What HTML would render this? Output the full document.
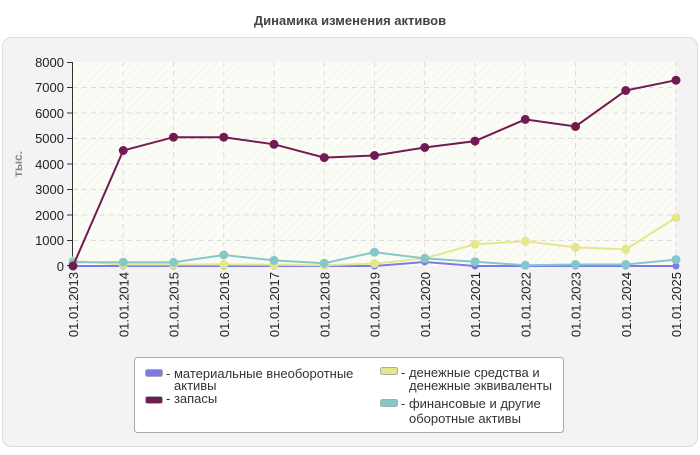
<!DOCTYPE html>
<html><head><meta charset="utf-8"><style>
body{margin:0;width:700px;height:450px;background:#fff;font-family:"Liberation Sans",sans-serif;overflow:hidden}
</style></head><body>
<svg width="700" height="450" xmlns="http://www.w3.org/2000/svg" font-family="Liberation Sans, sans-serif">
<defs>
<pattern id="h" width="6" height="6" patternUnits="userSpaceOnUse" patternTransform="rotate(-45)">
<rect width="6" height="6" fill="#fcfcf6"/><line x1="0" y1="0" x2="6" y2="0" stroke="#efefe8" stroke-width="1"/>
</pattern>
</defs>
<text x="350" y="25" text-anchor="middle" font-size="13" font-weight="bold" fill="#444">Динамика изменения активов</text>
<rect x="2.5" y="37.5" width="695" height="409" rx="9" fill="#f3f3f3" stroke="#ddd"/>
<rect x="73" y="62" width="603" height="204" fill="url(#h)"/>
<g stroke="#ddd" stroke-dasharray="5,4">
<line x1="73" y1="87.5" x2="676" y2="87.5"/><line x1="73" y1="113" x2="676" y2="113"/><line x1="73" y1="138.5" x2="676" y2="138.5"/><line x1="73" y1="164" x2="676" y2="164"/><line x1="73" y1="189.5" x2="676" y2="189.5"/><line x1="73" y1="215" x2="676" y2="215"/><line x1="73" y1="240.5" x2="676" y2="240.5"/>
<line x1="123.25" y1="62" x2="123.25" y2="266"/><line x1="173.5" y1="62" x2="173.5" y2="266"/><line x1="223.75" y1="62" x2="223.75" y2="266"/><line x1="274" y1="62" x2="274" y2="266"/><line x1="324.25" y1="62" x2="324.25" y2="266"/><line x1="374.5" y1="62" x2="374.5" y2="266"/><line x1="424.75" y1="62" x2="424.75" y2="266"/><line x1="475" y1="62" x2="475" y2="266"/><line x1="525.25" y1="62" x2="525.25" y2="266"/><line x1="575.5" y1="62" x2="575.5" y2="266"/><line x1="625.75" y1="62" x2="625.75" y2="266"/><line x1="676" y1="62" x2="676" y2="266"/>
</g>
<line x1="72.5" y1="62" x2="72.5" y2="266" stroke="#333"/>
<g stroke="#333"><line x1="67" y1="62.5" x2="72" y2="62.5"/><line x1="67" y1="87.5" x2="72" y2="87.5"/><line x1="67" y1="113" x2="72" y2="113"/><line x1="67" y1="138.5" x2="72" y2="138.5"/><line x1="67" y1="164" x2="72" y2="164"/><line x1="67" y1="189.5" x2="72" y2="189.5"/><line x1="67" y1="215" x2="72" y2="215"/><line x1="67" y1="240.5" x2="72" y2="240.5"/><line x1="67" y1="265.5" x2="72" y2="265.5"/></g>
<g font-size="13" fill="#222" text-anchor="end">
<text x="64" y="67">8000</text><text x="64" y="92">7000</text><text x="64" y="118">6000</text><text x="64" y="143">5000</text><text x="64" y="169">4000</text><text x="64" y="194">3000</text><text x="64" y="220">2000</text><text x="64" y="245">1000</text><text x="64" y="271">0</text>
</g>
<text transform="translate(22,164) rotate(-90)" text-anchor="middle" font-size="12" font-weight="bold" fill="#888">тыс.</text>
<g font-size="13" fill="#222" text-anchor="end">
<text transform="translate(78,272) rotate(-90)">01.01.2013</text>
<text transform="translate(128.25,272) rotate(-90)">01.01.2014</text>
<text transform="translate(178.5,272) rotate(-90)">01.01.2015</text>
<text transform="translate(228.75,272) rotate(-90)">01.01.2016</text>
<text transform="translate(279,272) rotate(-90)">01.01.2017</text>
<text transform="translate(329.25,272) rotate(-90)">01.01.2018</text>
<text transform="translate(379.5,272) rotate(-90)">01.01.2019</text>
<text transform="translate(429.75,272) rotate(-90)">01.01.2020</text>
<text transform="translate(480,272) rotate(-90)">01.01.2021</text>
<text transform="translate(530.25,272) rotate(-90)">01.01.2022</text>
<text transform="translate(580.5,272) rotate(-90)">01.01.2023</text>
<text transform="translate(630.75,272) rotate(-90)">01.01.2024</text>
<text transform="translate(681,272) rotate(-90)">01.01.2025</text>
</g>
<g id="blue" fill="#7a7ae8" stroke="#7a7ae8" stroke-width="2">
<polyline fill="none" points="73,266 123.25,266 173.5,266 223.75,266 274,266 324.25,266 374.5,266 424.75,262 475,266 525.25,266 575.5,266 625.75,266 676,266"/>
<circle cx="73" cy="266" r="2.5"/><circle cx="123.25" cy="266" r="2.5"/><circle cx="173.5" cy="266" r="2.5"/><circle cx="223.75" cy="266" r="2.5"/><circle cx="274" cy="266" r="2.5"/><circle cx="324.25" cy="266" r="2.5"/><circle cx="374.5" cy="266" r="2.5"/><circle cx="424.75" cy="262" r="2.5"/><circle cx="475" cy="266" r="2.5"/><circle cx="525.25" cy="266" r="2.5"/><circle cx="575.5" cy="266" r="2.5"/><circle cx="625.75" cy="266" r="2.5"/><circle cx="676" cy="266" r="2.5"/>
</g>
<g fill="#e6e68a" stroke="#e6e68a" stroke-width="2">
<polyline fill="none" points="73,261 123.25,264.5 173.5,264.5 223.75,264.5 274,264.7 324.25,265.2 374.5,263.5 424.75,258.4 475,244.3 525.25,241.3 575.5,247.4 625.75,249.4 676,217.6"/>
<circle cx="73" cy="261" r="3.5"/><circle cx="123.25" cy="264.5" r="3.5"/><circle cx="173.5" cy="264.5" r="3.5"/><circle cx="223.75" cy="264.5" r="3.5"/><circle cx="274" cy="264.7" r="3.5"/><circle cx="324.25" cy="265.2" r="3.5"/><circle cx="374.5" cy="263.5" r="3.5"/><circle cx="424.75" cy="258.4" r="3.5"/><circle cx="475" cy="244.3" r="3.5"/><circle cx="525.25" cy="241.3" r="3.5"/><circle cx="575.5" cy="247.4" r="3.5"/><circle cx="625.75" cy="249.4" r="3.5"/><circle cx="676" cy="217.6" r="3.5"/>
</g>
<g fill="#85c8c8" stroke="#85c8c8" stroke-width="2">
<polyline fill="none" points="73,262.2 123.25,262.2 173.5,262.4 223.75,255 274,260.4 324.25,263.2 374.5,252.2 424.75,258.4 475,261.7 525.25,265.2 575.5,264.5 625.75,264.5 676,259.6"/>
<circle cx="73" cy="262.2" r="3.5"/><circle cx="123.25" cy="262.2" r="3.5"/><circle cx="173.5" cy="262.4" r="3.5"/><circle cx="223.75" cy="255" r="3.5"/><circle cx="274" cy="260.4" r="3.5"/><circle cx="324.25" cy="263.2" r="3.5"/><circle cx="374.5" cy="252.2" r="3.5"/><circle cx="424.75" cy="258.4" r="3.5"/><circle cx="475" cy="261.7" r="3.5"/><circle cx="525.25" cy="265.2" r="3.5"/><circle cx="575.5" cy="264.5" r="3.5"/><circle cx="625.75" cy="264.5" r="3.5"/><circle cx="676" cy="259.6" r="3.5"/>
</g>
<g fill="#721a52" stroke="#721a52" stroke-width="2">
<polyline fill="none" points="73,266 123.25,150.5 173.5,137.2 223.75,137.2 274,144.3 324.25,157.6 374.5,155.5 424.75,147.5 475,141.1 525.25,119.4 575.5,126.5 625.75,90.5 676,80.2"/>
<circle cx="73" cy="266" r="3.5"/><circle cx="123.25" cy="150.5" r="3.5"/><circle cx="173.5" cy="137.2" r="3.5"/><circle cx="223.75" cy="137.2" r="3.5"/><circle cx="274" cy="144.3" r="3.5"/><circle cx="324.25" cy="157.6" r="3.5"/><circle cx="374.5" cy="155.5" r="3.5"/><circle cx="424.75" cy="147.5" r="3.5"/><circle cx="475" cy="141.1" r="3.5"/><circle cx="525.25" cy="119.4" r="3.5"/><circle cx="575.5" cy="126.5" r="3.5"/><circle cx="625.75" cy="90.5" r="3.5"/><circle cx="676" cy="80.2" r="3.5"/>
</g>
<rect x="134.5" y="357.5" width="429" height="75" rx="3" fill="#fff" stroke="#aaa"/>
<g stroke="#aaa" stroke-width="1">
<rect x="145.5" y="369.5" width="17" height="7" rx="2" fill="#7a7ae8"/>
<rect x="145.5" y="396.5" width="17" height="7" rx="2" fill="#721a52"/>
<rect x="380.5" y="367.5" width="17" height="7" rx="2" fill="#e6e68a"/>
<rect x="380.5" y="399.5" width="17" height="7" rx="2" fill="#85c8c8"/>
</g>
<g font-size="13" fill="#333">
<text x="166" y="378">- материальные внеоборотные</text>
<text x="174" y="390">активы</text>
<text x="166" y="403">- запасы</text>
<text x="401" y="377">- денежные средства и</text>
<text x="409" y="390">денежные эквиваленты</text>
<text x="401" y="408">- финансовые и другие</text>
<text x="409" y="423">оборотные активы</text>
</g>
</svg>
</body></html>
